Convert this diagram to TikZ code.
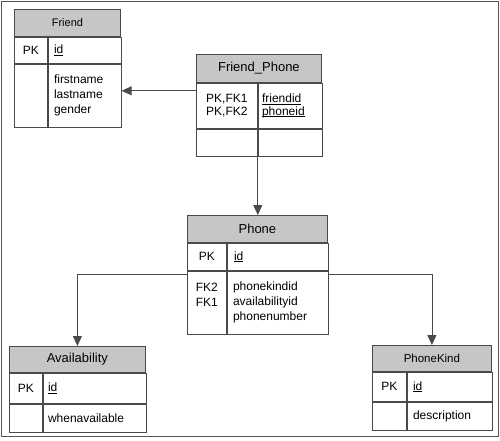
\documentclass[tikz,border=0pt]{standalone}
\usepackage{fontspec}
\setmainfont{Liberation Sans}
\usetikzlibrary{positioning,arrows.meta,calc}
\definecolor{linegray}{HTML}{4A4A4A}
\definecolor{hdrgray}{HTML}{C6C6C6}
\definecolor{framegray}{HTML}{555555}
\newcommand{\pkfield}[1]{\underline{\smash{#1}}\vphantom{#1}}
\tikzset{tbl/.style={draw=linegray,line width=0.8pt,inner sep=0pt,anchor=north west,
font=\fontsize{12}{15}\selectfont,align=center},
hdr/.style={tbl,fill=hdrgray,font=\fontsize{13}{15}\selectfont},
fld/.style={anchor=west,inner sep=0pt,xshift=6pt,align=left,font=\fontsize{12}{15}\selectfont},
link/.style={draw=linegray,line width=0.8pt,-{Triangle[length=10pt,width=9pt]}}}

\begin{document}
\begin{tikzpicture}[x=1pt,y=-1pt]
	\useasboundingbox (0,0) rectangle (500,440);
	\draw[framegray,line width=1pt] (1,1) rectangle (498,436);
	% Friend
	\node[hdr,minimum width=106pt,minimum height=27pt,font=\fontsize{11}{13}\selectfont] (friend) at (14,9) {Friend};
	\node[tbl,minimum width=33pt,minimum height=26pt] (friend-k1) at (friend.south west) {PK};
	\node[tbl,minimum width=73pt,minimum height=26pt] (friend-f1) at (friend-k1.north east) {};
	\node[tbl,minimum width=33pt,minimum height=63pt] (friend-k2) at (friend-k1.south west) {};
	\node[tbl,minimum width=73pt,minimum height=63pt] (friend-f2) at (friend-k2.north east) {};
	\node[fld] at (friend-f1.west) {\pkfield{id}};
	\node[fld] at (friend-f2.west) {firstname\\lastname\\gender};
	% Friend_Phone
	\node[hdr,minimum width=125pt,minimum height=28pt] (fp) at (196,54) {Friend\_Phone};
	\node[tbl,minimum width=61pt,minimum height=45pt,font=\fontsize{12}{12.5}\selectfont] (fp-k1) at (fp.south west) {PK,FK1\\PK,FK2};
	\node[tbl,minimum width=64pt,minimum height=45pt] (fp-f1) at (fp-k1.north east) {};
	\node[tbl,minimum width=61pt,minimum height=27pt] (fp-k2) at (fp-k1.south west) {};
	\node[tbl,minimum width=64pt,minimum height=27pt] (fp-f2) at (fp-k2.north east) {};
	\node[fld,xshift=-2pt,font=\fontsize{12}{12.5}\selectfont] at (fp-f1.west) {\pkfield{friendid}\\\pkfield{phoneid}};
	% Phone
	\node[hdr,minimum width=140pt,minimum height=27pt] (phone) at (187,215) {Phone};
	\node[tbl,minimum width=39pt,minimum height=27pt] (phone-k1) at (phone.south west) {PK};
	\node[tbl,minimum width=101pt,minimum height=27pt] (phone-f1) at (phone-k1.north east) {};
	\node[tbl,minimum width=39pt,minimum height=63pt] (phone-k2) at (phone-k1.south west) {FK2\\FK1\\\phantom{FK}};
	\node[tbl,minimum width=101pt,minimum height=63pt] (phone-f2) at (phone-k2.north east) {};
	\node[fld,xshift=1pt] at (phone-f1.west) {\pkfield{id}};
	\node[fld] at (phone-f2.west) {phonekindid\\availabilityid\\phonenumber};
	% Availability
	\node[hdr,minimum width=136pt,minimum height=26pt] (avail) at (9,346) {Availability};
	\node[tbl,minimum width=33pt,minimum height=30pt] (avail-k1) at (avail.south west) {PK};
	\node[tbl,minimum width=103pt,minimum height=30pt] (avail-f1) at (avail-k1.north east) {};
	\node[tbl,minimum width=33pt,minimum height=28pt] (avail-k2) at (avail-k1.south west) {};
	\node[tbl,minimum width=103pt,minimum height=28pt] (avail-f2) at (avail-k2.north east) {};
	\node[fld,xshift=-1pt] at (avail-f1.west) {\pkfield{id}};
	\node[fld,xshift=-1pt] at (avail-f2.west) {whenavailable};
	% PhoneKind
	\node[hdr,minimum width=119pt,minimum height=26pt,font=\fontsize{11.5}{14}\selectfont] (kind) at (372,345) {PhoneKind};
	\node[tbl,minimum width=34pt,minimum height=29pt] (kind-k1) at (kind.south west) {PK};
	\node[tbl,minimum width=85pt,minimum height=29pt] (kind-f1) at (kind-k1.north east) {};
	\node[tbl,minimum width=34pt,minimum height=28pt] (kind-k2) at (kind-k1.south west) {};
	\node[tbl,minimum width=85pt,minimum height=28pt] (kind-f2) at (kind-k2.north east) {};
	\node[fld] at (kind-f1.west) {\pkfield{id}};
	\node[fld] at (kind-f2.west) {description};
	% links
	\coordinate (fp-out) at ($(fp-k1.north west)+(0,8)$);
	\coordinate (phone-l) at ($(phone-k2.north west)+(0,4)$);
	\coordinate (phone-r) at ($(phone-f2.north east)+(0,4)$);
	\draw[link] (fp-out) -- (fp-out -| friend-f2.east);
	\draw[link] (fp-k2.south east) -- (fp-k2.south east |- phone.north);
	\draw[link] (phone-l) -| (avail.north);
	\draw[link] (phone-r) -| (kind.north);
\end{tikzpicture}
\end{document}
